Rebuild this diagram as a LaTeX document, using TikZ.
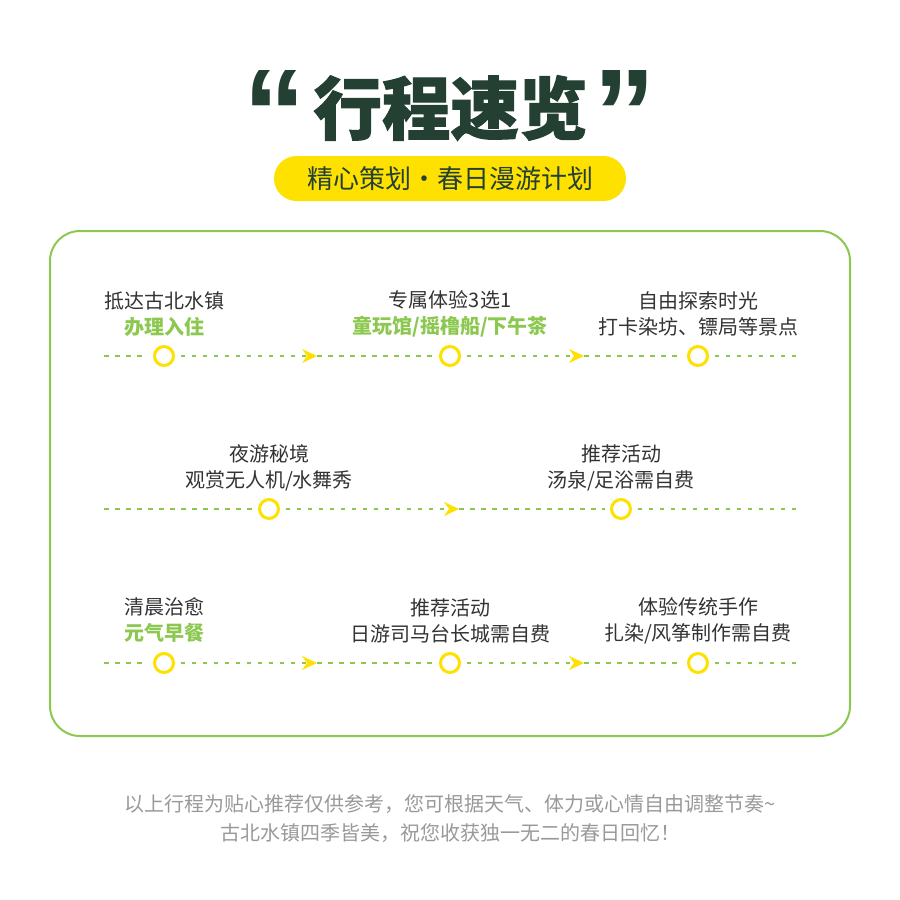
\documentclass[tikz,border=0pt]{standalone}
\usepackage{fontspec}
\usetikzlibrary{arrows.meta}
\setmainfont{Noto Sans CJK SC}
\newfontfamily\titlefont[FakeBold=1.5]{Noto Sans CJK SC Black}
\newfontfamily\quotefont{Liberation Sans Bold}
\definecolor{darkg}{HTML}{234033}
\definecolor{leaf}{HTML}{8CC850}
\definecolor{sun}{HTML}{FFE100}
\definecolor{notegray}{HTML}{999999}
\tikzset{>=stealth,
  steptext/.style={align=center,text=black!80,inner sep=0pt,font=\fontsize{20}{26}\selectfont},
  dashline/.style={leaf,line width=1.5pt,dash pattern=on 4.5pt off 6.5pt},
  arrowline/.style={dashline,-{Stealth[sun,length=15pt,width=14pt,inset=5pt]}},
  stop/.style={circle,draw=sun,fill=white,line width=3pt,minimum size=19pt,inner sep=0pt,outer sep=7pt},
  quotemark/.style={text=darkg,font=\quotefont\fontsize{125}{125}\selectfont,inner sep=0pt}
}
\newcommand{\hltext}[1]{\textcolor{leaf}{\bfseries #1}}
\begin{document}
\begin{tikzpicture}[x=1pt,y=-1pt]
\useasboundingbox (0,0) rectangle (900,900);
\node[text=darkg,font=\titlefont\fontsize{68.5}{68.5}\selectfont,inner sep=0pt] (title) at (450.5,108) {行程速览};
\node[quotemark] (ql) at (275,113) {“};
\node[quotemark] (qr) at (625,113) {”};
\node[fill=sun,rounded corners=22.5pt,minimum width=352pt,minimum height=45pt,inner sep=0pt,text=darkg,font=\fontsize{26}{26}\selectfont] (sub) at (450,178.5) {\hspace{1pt}精心策划・春日漫游计划};
\node[draw=leaf,line width=2pt,rounded corners=30pt,minimum width=800pt,minimum height=505pt] (panel) at (450,483.5) {};

\node[steptext] (t1) at (164,314) {抵达古北水镇\\\hltext{办理入住}};
\node[steptext] (t2) at (450,314) {专属体验3选1\\\hltext{童玩馆/摇橹船/下午茶}};
\node[steptext] (t3) at (698,314) {自由探索时光\\打卡染坊、镖局等景点};
\node[steptext] (t4) at (269,467.5) {夜游秘境\\观赏无人机/水舞秀};
\node[steptext] (t5) at (621,467.5) {推荐活动\\汤泉/足浴需自费};
\node[steptext] (t6) at (164,620.5) {清晨治愈\\\hltext{元气早餐}};
\node[steptext] (t7) at (450,620.5) {推荐活动\\日游司马台长城需自费};
\node[steptext] (t8) at (698,620.5) {体验传统手作\\扎染/风筝制作需自费};

\coordinate (s1) at (104,356);
\node[stop] (c1) at (164,356) {};
\coordinate (m1) at (317,356);
\node[stop] (c2) at (450,356) {};
\coordinate (m2) at (584,356);
\node[stop] (c3) at (698,356) {};
\coordinate (e1) at (797,356);
\draw[dashline] (s1) -- (c1);
\draw[arrowline] (c1) -- (m1);
\draw[dashline] (m1) -- (c2);
\draw[arrowline] (c2) -- (m2);
\draw[dashline] (m2) -- (c3);
\draw[dashline] (c3) -- (e1);

\coordinate (s2) at (104,509);
\node[stop] (c4) at (269,509) {};
\coordinate (m3) at (459,509);
\node[stop] (c5) at (621,509) {};
\coordinate (e2) at (797,509);
\draw[dashline] (s2) -- (c4);
\draw[arrowline] (c4) -- (m3);
\draw[dashline] (m3) -- (c5);
\draw[dashline] (c5) -- (e2);

\coordinate (s3) at (104,663);
\node[stop] (c6) at (164,663) {};
\coordinate (m4) at (317,663);
\node[stop] (c7) at (450,663) {};
\coordinate (m5) at (584,663);
\node[stop] (c8) at (698,663) {};
\coordinate (e3) at (797,663);
\draw[dashline] (s3) -- (c6);
\draw[arrowline] (c6) -- (m4);
\draw[dashline] (m4) -- (c7);
\draw[arrowline] (c7) -- (m5);
\draw[dashline] (m5) -- (c8);
\draw[dashline] (c8) -- (e3);

\node[align=center,text=notegray,inner sep=0pt,font=\fontsize{20}{29}\selectfont] (note) at (450,819) {以上行程为贴心推荐仅供参考，您可根据天气、体力或心情自由调整节奏\textasciitilde\\古北水镇四季皆美，祝您收获独一无二的春日回忆！};
\end{tikzpicture}
\end{document}
